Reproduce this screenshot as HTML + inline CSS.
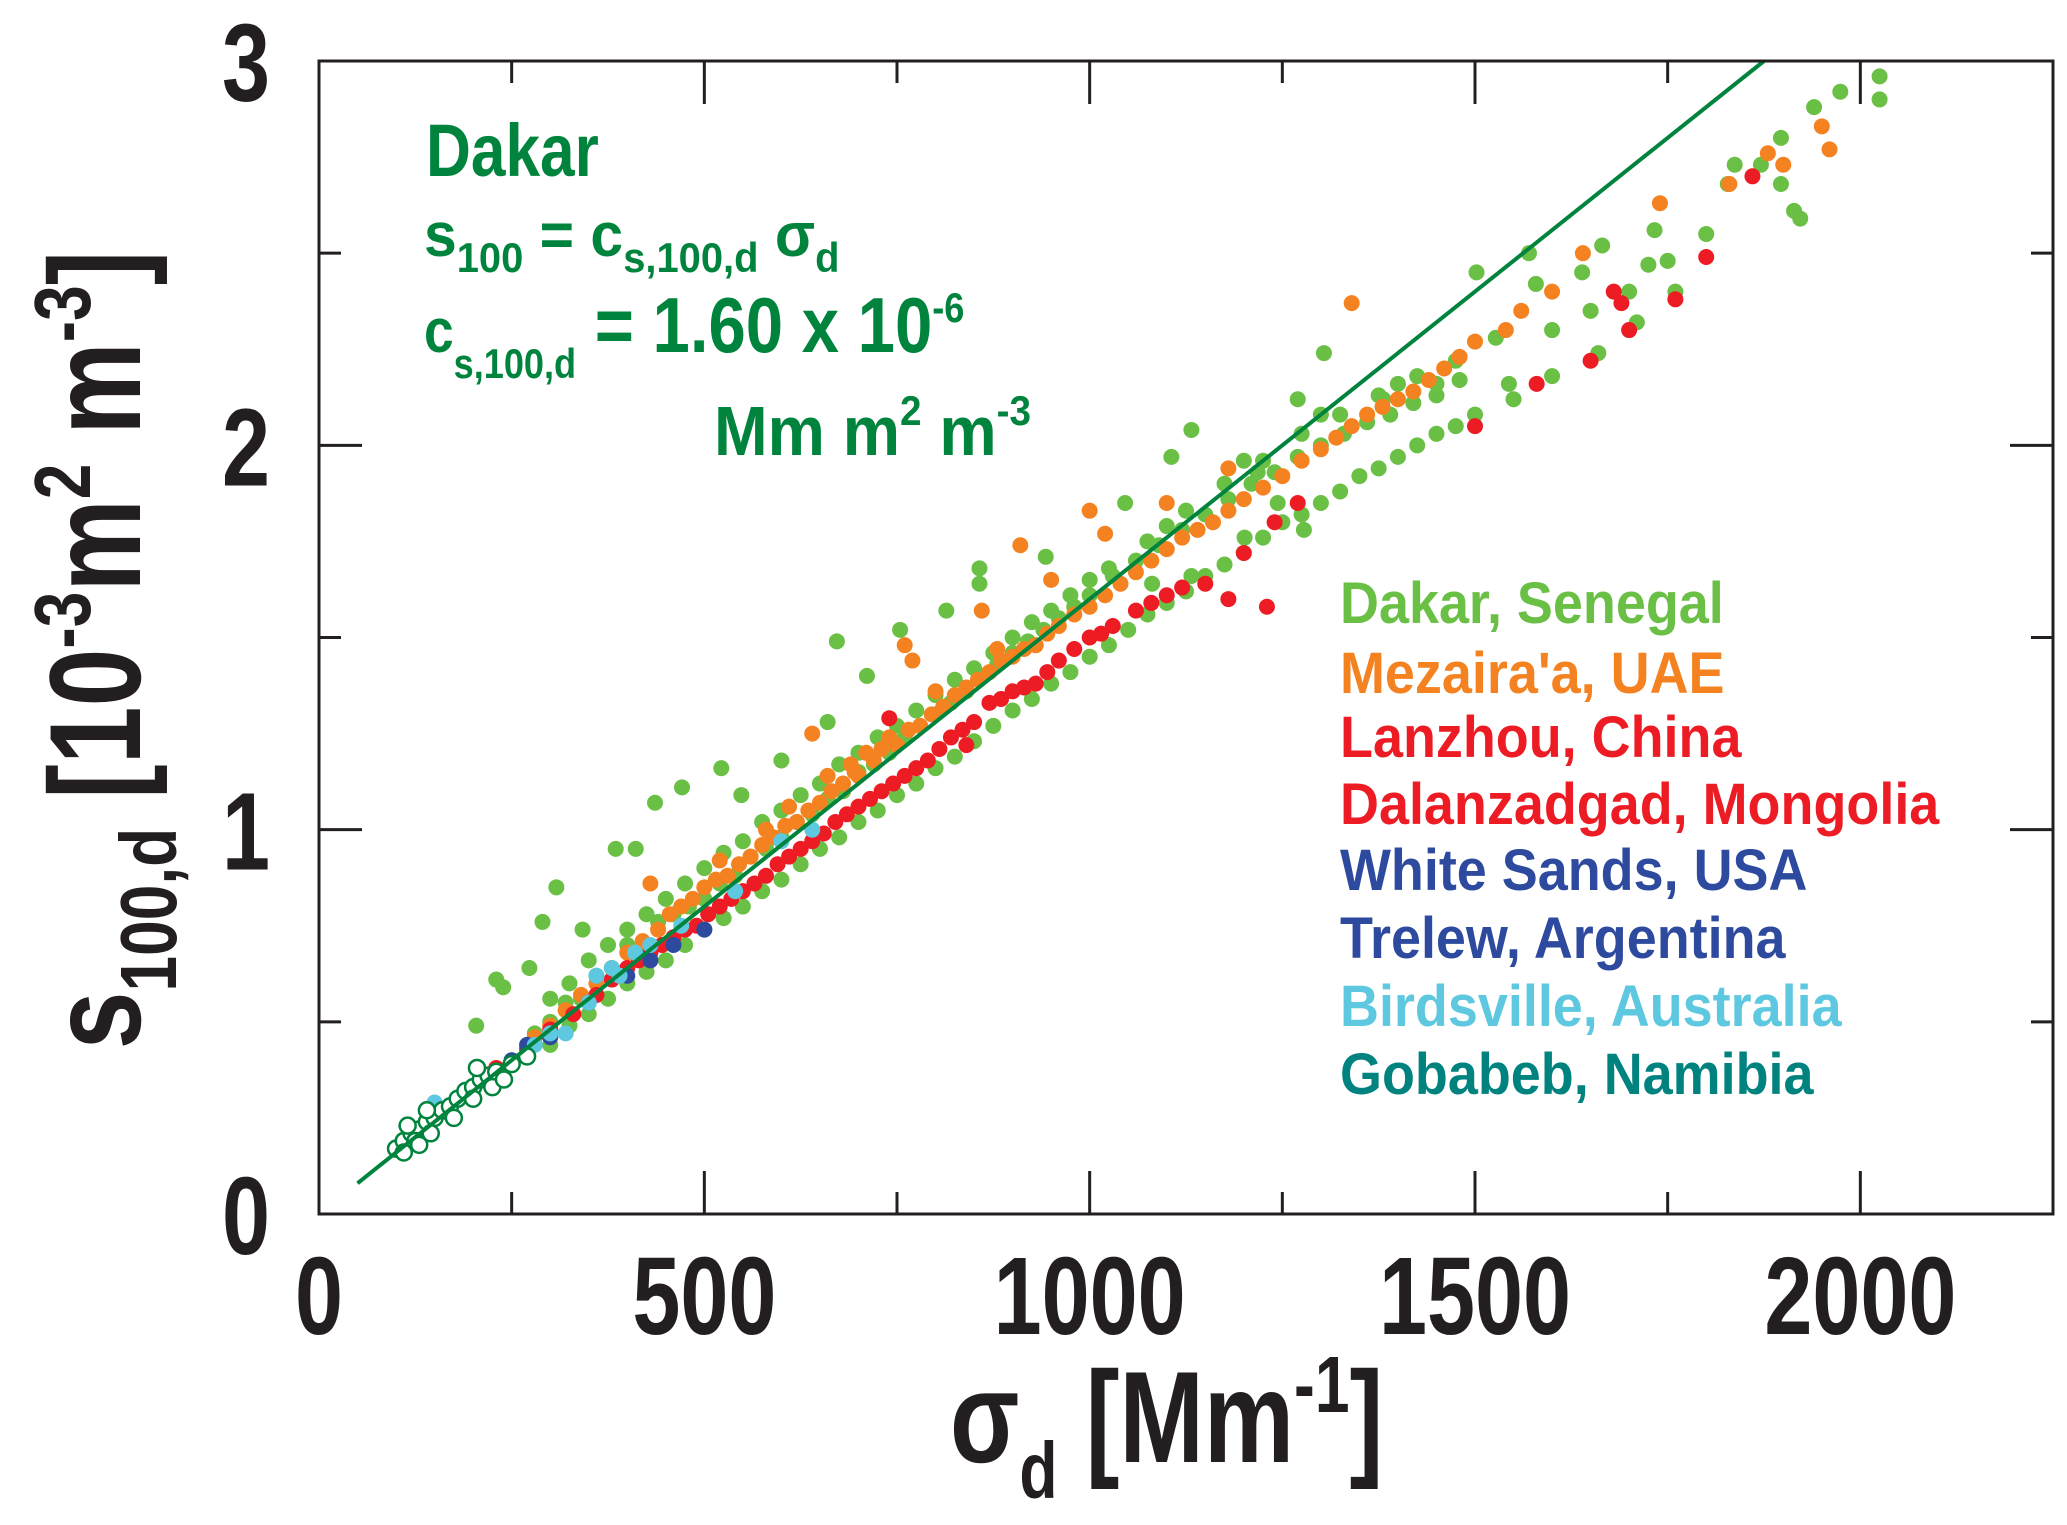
<!DOCTYPE html>
<html><head><meta charset="utf-8"><style>
html,body{margin:0;padding:0;background:#fff;}
svg{display:block;}
text{font-family:"Liberation Sans",sans-serif;font-weight:bold;}
</style></head><body>
<svg id="chart" width="2067" height="1525" viewBox="0 0 2067 1525">
<g id="marks"></g>
<g id="axes"></g>
<g fill="#00843d">
 <g transform="translate(426,176) scale(0.84,1)"><text x="0" y="0" font-size="74">Dakar</text></g>
 <g transform="translate(424,256) scale(0.95,1)"><text x="0" y="0" font-size="62">s<tspan font-size="42" dy="16">100</tspan><tspan dy="-16"> = c</tspan><tspan font-size="42" dy="16">s,100,d</tspan><tspan dy="-16"> σ</tspan><tspan font-size="42" dy="16">d</tspan></text></g>
 <g transform="translate(424,352) scale(0.86,1)"><text x="0" y="0" font-size="62">c<tspan font-size="42" dy="26">s,100,d</tspan><tspan dy="-26" font-size="78"> = 1.60 x 10</tspan><tspan font-size="42" dy="-30">-6</tspan></text></g>
 <g transform="translate(714,455) scale(0.92,1)"><text x="0" y="0" font-size="70">Mm m<tspan font-size="42" dy="-30">2</tspan><tspan dy="30"> m</tspan><tspan font-size="42" dy="-30">-3</tspan></text></g>
</g>
<g font-size="58" transform="translate(1340,0) scale(0.93,1)">
 <text x="0" y="623" fill="#6abf45">Dakar, Senegal</text>
 <text x="0" y="693" fill="#f58220">Mezaira'a, UAE</text>
 <text x="0" y="757" fill="#ed1c24">Lanzhou, China</text>
 <text x="0" y="824" fill="#ed1c24">Dalanzadgad, Mongolia</text>
 <text x="0" y="890" fill="#2e4a9e">White Sands, USA</text>
 <text x="0" y="958" fill="#2e4a9e">Trelew, Argentina</text>
 <text x="0" y="1026" fill="#5ec8e0">Birdsville, Australia</text>
 <text x="0" y="1094" fill="#00827f">Gobabeb, Namibia</text>
</g>
<g transform="translate(950,1462) scale(0.78,1)"><text x="0" y="0" font-size="130" fill="#231f20">σ<tspan font-size="80" dy="36">d</tspan><tspan dy="-36"> [Mm</tspan><tspan font-size="80" dy="-50">-1</tspan><tspan dy="50">]</tspan></text></g>
<g transform="translate(140,650) rotate(-90) scale(0.8,1)"><text x="0" y="0" font-size="130" text-anchor="middle" fill="#231f20">s<tspan font-size="80" dy="36">100,d</tspan><tspan dy="-36"> [10</tspan><tspan font-size="80" dy="-50">-3</tspan><tspan dy="50">m</tspan><tspan font-size="80" dy="-50">2</tspan><tspan dy="50"> m</tspan><tspan font-size="80" dy="-50">-3</tspan><tspan dy="50">]</tspan></text></g>
</svg>
<script>
const xTicks=[0,500,1000,1500,2000];
const yTicks=[0,1,2,3];
const xTickLabels=['0','500','1000','1500','2000'];
const yTickLabels=['0','1','2','3'];
const fitSlope=[0.0016];
const fitRange=[50,1875];
const dakar=[[2025,2.96],[2025,2.90],[1974,2.92],[1940,2.88],[1897,2.80],[1871,2.73],[1837,2.73],[1828,2.68],[1914,2.61],[1922,2.59],[1897,2.68],[1733,2.56],[1725,2.47],[1665,2.52],[1639,2.45],[1570,2.50],[1579,2.42],[1502,2.45],[1527,2.28],[1544,2.16],[1450,2.16],[1381,2.12],[1304,2.24],[1270,2.12],[1132,2.04],[1106,1.97],[1218,1.93],[1244,1.85],[1278,1.78],[1201,1.76],[1046,1.85],[1132,1.66],[1081,1.64],[943,1.71],[857,1.68],[857,1.64],[814,1.57],[754,1.52],[672,1.49],[711,1.40],[660,1.28],[600,1.18],[548,1.09],[522,1.16],[471,1.11],[436,1.07],[411,0.95],[385,0.95],[308,0.85],[290,0.76],[230,0.61],[204,0.49],[239,0.59],[273,0.64],[342,0.74],
[250,0.40],[280,0.47],[300,0.50],[320,0.55],[340,0.56],[360,0.62],[380,0.64],[400,0.70],[420,0.69],[440,0.76],[460,0.78],[480,0.80],[500,0.82],[520,0.86],[540,0.88],[560,0.93],[580,0.95],[600,0.98],[620,1.02],[640,1.04],[660,1.08],[680,1.10],[700,1.15],[720,1.17],[740,1.20],[760,1.24],[780,1.27],[800,1.30],[820,1.33],[840,1.36],[860,1.40],[880,1.43],[900,1.46],[920,1.49],[940,1.52],[960,1.55],[980,1.58],[1000,1.61],[1030,1.66],[1060,1.70],[1090,1.74],[1120,1.78],[1150,1.82],[1180,1.86],[1210,1.90],[1240,1.93],[1270,1.97],[1300,2.00],[1330,2.03],[1360,2.06],[1390,2.08],[1420,2.11],[1450,2.13],[1480,2.17],
[300,0.44],[350,0.52],[400,0.60],[450,0.66],[500,0.74],[550,0.80],[600,0.87],[650,0.95],[700,1.02],[750,1.09],[800,1.16],[850,1.23],[900,1.31],[950,1.38],[1000,1.45],[1050,1.52],[1100,1.59],[1150,1.66],[1200,1.72],[1250,1.80],[1300,1.85],[1350,1.92],[1400,1.97],[1450,2.03],[1500,2.08],
[300,0.56],[350,0.66],[400,0.74],[450,0.82],[500,0.90],[550,0.97],[600,1.05],[650,1.12],[700,1.20],[750,1.27],[800,1.35],[850,1.42],[900,1.50],[950,1.57],[1000,1.65],[1100,1.79],[1200,1.96],[1300,2.08],[1400,2.16],[1600,2.30],[1700,2.40],[1650,2.35],[1750,2.48],[1800,2.55],
[325,0.60],[375,0.70],[425,0.78],[475,0.86],[525,0.94],[575,1.02],[625,1.09],[675,1.17],[725,1.24],[775,1.31],[825,1.39],[875,1.46],[925,1.54],[975,1.61],[1025,1.68],[1075,1.75],[1125,1.83],[1175,1.90],[1225,1.96],[1275,2.03],[1325,2.08],[1375,2.13],[1425,2.18],[1475,2.22],
[325,0.49],[375,0.56],[425,0.63],[475,0.70],[525,0.77],[575,0.84],[625,0.91],[675,0.98],[725,1.05],[775,1.12],[825,1.19],[875,1.27],[925,1.34],[975,1.41],[1025,1.48],[1075,1.56],[1125,1.62],[1175,1.69],[1225,1.76],[1275,1.82],[1325,1.88],[1375,1.94],[1425,2.00],[1475,2.05],[1550,2.12],[1600,2.18],[1660,2.24],[1710,2.32],[1760,2.40]];
const mezaira=[[280,0.46],[320,0.53],[360,0.60],[400,0.68],[440,0.74],[470,0.80],[500,0.85],[530,0.88],[560,0.93],[590,0.98],[620,1.02],[650,1.07],[680,1.12],[700,1.14],[720,1.18],[750,1.22],[780,1.27],[810,1.32],[840,1.37],[870,1.41],[900,1.45],[930,1.48],[960,1.53],[1000,1.58],[1040,1.64],[1080,1.70],[1120,1.76],[1160,1.80],[1200,1.86],[1250,1.92],[1300,1.99],[1340,2.05],[1380,2.10],[1420,2.14],[1460,2.20],[1500,2.27],[1540,2.30],[1600,2.40],[1640,2.50],[1740,2.63],[1830,2.68],[1880,2.76],[1900,2.73],[1950,2.83],[1960,2.77],[1340,2.37],[1000,1.83],[910,1.74],[950,1.65],[760,1.48],[770,1.44],[1020,1.77],[640,1.25],[430,0.86],[860,1.57],[1100,1.85],[1180,1.94],[520,0.92],[580,1.00],[610,1.06],[660,1.14],[690,1.17],[740,1.24],[800,1.36],[880,1.47],
[300,0.49],[340,0.57],[380,0.64],[420,0.71],[455,0.78],[485,0.82],[515,0.87],[545,0.91],[575,0.96],[605,1.01],[635,1.05],[665,1.10],[695,1.15],[710,1.20],[730,1.21],[765,1.26],[795,1.30],[825,1.35],[855,1.39],[885,1.44],[915,1.47],[945,1.51],[980,1.56],[1020,1.61],[1060,1.67],[1100,1.73],[1140,1.78],[1180,1.83],[1225,1.89],[1275,1.96],[1320,2.02],[1360,2.08],[1400,2.12],[1440,2.17],[1480,2.23],[1560,2.35]];
const lanzhou=[[230,0.38],[270,0.43],[300,0.48],[330,0.52],[360,0.57],[400,0.64],[430,0.68],[460,0.72],[490,0.75],[520,0.80],[550,0.84],[580,0.88],[610,0.93],[640,0.97],[670,1.02],[700,1.06],[730,1.10],[760,1.14],[790,1.18],[820,1.24],[850,1.28],[870,1.33],[900,1.36],[930,1.38],[960,1.44],[1000,1.50],[1030,1.53],[1060,1.57],[1100,1.61],[1150,1.64],[1180,1.60],[1200,1.72],[1240,1.80],[1270,1.85],[1500,2.05],[1580,2.16],[1650,2.22],[1680,2.40],[1690,2.37],[1760,2.38],[1800,2.49],[1700,2.30],[1860,2.70],[1230,1.58],[740,1.29],[840,1.22],
[380,0.61],[415,0.66],[445,0.70],[475,0.74],[505,0.78],[535,0.82],[565,0.86],[595,0.91],[625,0.95],[655,0.99],[685,1.04],[715,1.08],[745,1.12],[775,1.16],[805,1.21],[835,1.26],[885,1.34],[915,1.37],[945,1.41],[980,1.47],[1015,1.51],[1080,1.59],[1120,1.63]];
const whiteSandsTrelew=[[250,0.40],[270,0.44],[300,0.46],[350,0.55],[400,0.62],[430,0.66],[460,0.70],[500,0.74],[140,0.22],[170,0.26]];
const birdsville=[[150,0.29],[280,0.44],[300,0.47],[320,0.47],[350,0.55],[360,0.62],[380,0.64],[390,0.62],[410,0.68],[430,0.70],[470,0.75],[540,0.84],[600,0.97],[640,1.00]];
const gobabeb=[[100,0.17],[110,0.19],[120,0.21],[130,0.22],[140,0.24],[150,0.25],[160,0.27],[170,0.28],[180,0.30],[190,0.32],[200,0.33],[210,0.35],[220,0.36],[230,0.37],[250,0.39],[270,0.41],[110,0.16],[125,0.19],[145,0.21],[175,0.25],[200,0.30],[225,0.33],[240,0.35],[115,0.23],[140,0.27],[205,0.38],[130,0.18]];

const L=319,R=2053,T=61,B=1214,XMAX=2250,YMAX=3;
function sx(v){return L+v/XMAX*(R-L);}
function sy(v){return B-v/YMAX*(B-T);}
const NS='http://www.w3.org/2000/svg';
function mk(tag,attrs,parent){const e=document.createElementNS(NS,tag);for(const k in attrs)e.setAttribute(k,attrs[k]);parent.appendChild(e);return e;}
const marks=document.getElementById('marks');
const axes=document.getElementById('axes');
function series(arr,fill,stroke,name){
 const g=mk('g',{},marks);
 
 
 arr.forEach(p=>{
  const c=mk('circle',{cx:sx(p[0]),cy:sy(p[1]),r:8,fill:fill,stroke:stroke,'stroke-width':stroke==='none'?0:2.5},g);
  
  
 });
}
series(dakar,'#6abf45','none','dakar-series');
series(mezaira,'#f58220','none','mezaira-series');
series(lanzhou,'#ed1c24','none','lanzhou-series');
series(whiteSandsTrelew,'#2e4a9e','none','white-sands-series');
series(birdsville,'#5ec8e0','none','birdsville-series');
series(gobabeb,'#ffffff','#00843d','gobabeb-series');
const fit=mk('line',{x1:sx(fitRange[0]),y1:sy(fitRange[0]*fitSlope[0]),x2:sx(fitRange[1]),y2:sy(fitRange[1]*fitSlope[0]),stroke:'#00843d','stroke-width':4},marks);


const frame=mk('rect',{x:L,y:T,width:R-L,height:B-T,fill:'none',stroke:'#231f20','stroke-width':3},axes);


for(let v=0;v<=XMAX;v+=250){
 const len=(v%500===0)?43:22;
 mk('line',{x1:sx(v),x2:sx(v),y1:B,y2:B-len,stroke:'#231f20','stroke-width':3},axes);
 mk('line',{x1:sx(v),x2:sx(v),y1:T,y2:T+len,stroke:'#231f20','stroke-width':3},axes);
}
for(let v=0;v<=YMAX;v+=0.5){
 const len=(Math.abs(v-Math.round(v))<1e-6)?43:22;
 mk('line',{x1:L,x2:L+len,y1:sy(v),y2:sy(v),stroke:'#231f20','stroke-width':3},axes);
 mk('line',{x1:R,x2:R-len,y1:sy(v),y2:sy(v),stroke:'#231f20','stroke-width':3},axes);
}
xTicks.forEach((v,i)=>{
 const n=xTickLabels[i].length;
 const t=mk('text',{x:sx(v)-n*24,y:1334,'font-size':110,fill:'#231f20',textLength:n*48,lengthAdjust:'spacingAndGlyphs'},axes);
 t.textContent=xTickLabels[i];
 
 
});
yTicks.forEach((v,i)=>{
 const n=yTickLabels[i].length;
 const t=mk('text',{x:270-n*48,y:sy(v)+40,'font-size':110,fill:'#231f20',textLength:n*48,lengthAdjust:'spacingAndGlyphs'},axes);
 t.textContent=yTickLabels[i];
 
 
});
</script>
</body></html>
